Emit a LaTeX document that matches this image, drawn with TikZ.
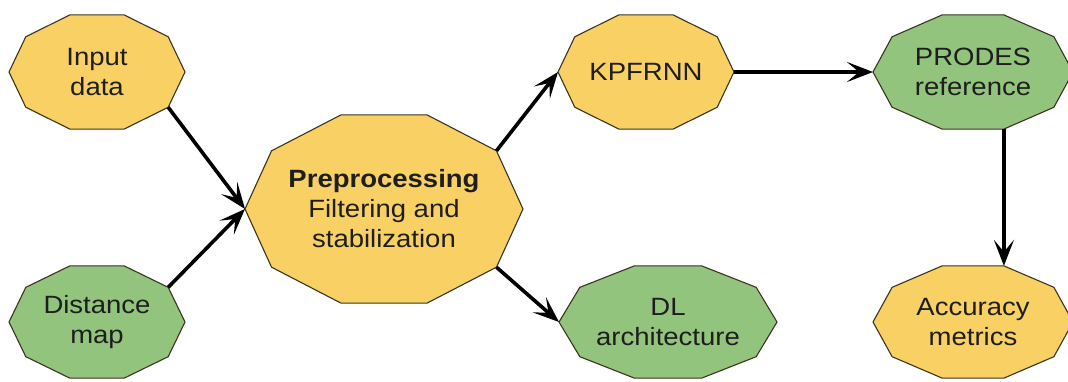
\documentclass[tikz,border=0pt]{standalone}
\usepackage{fontspec}
\setmainfont{Liberation Sans}[FakeStretch=1.1]
\usetikzlibrary{arrows.meta,calc}
\definecolor{yel}{HTML}{F8D064}
\definecolor{grn}{HTML}{93C47D}
\definecolor{edgec}{HTML}{3A3520}
\definecolor{txt}{HTML}{1E1E1E}
\tikzset{
  lbl/.style={text=txt, align=center, inner sep=0pt, font=\fontsize{25}{30}\selectfont},
  arr/.style={line width=3.6pt, draw=black, -{Stealth[length=26pt,width=20pt,inset=12pt]}},
  decaline/.style={draw=edgec, line width=1.1pt, line join=miter}
}
\newcommand\mydeca[7]{%
  \path[decaline, fill=#6]
    plot[samples=11, domain=0:360, variable=\t] ({#2+#4*cos(\t)},{#3-#5*sin(\t)}) -- cycle;
  \foreach \k in {0,...,9}{\coordinate (#1-\k) at ({#2+#4*cos(36*\k)},{#3-#5*sin(36*\k)});}
  \node[lbl] (#1) at (#2,#3) {#7};
}
\begin{document}
\begin{tikzpicture}[x=1pt,y=-1pt]
\useasboundingbox (0,0) rectangle (1068,381);
\clip (0,0) rectangle (1068,381);
\fill[white] (0,0) rectangle (1068,381);
\mydeca{in}{97}{72}{88}{60}{yel}{Input\\data}
\mydeca{dist}{97}{322}{88}{59}{grn}{Distance\\map}
\mydeca{pre}{384}{209}{139}{99}{yel}{\textbf{Preprocessing}\\Filtering and\\stabilization}
\mydeca{kp}{646}{72}{88}{60}{yel}{KPFRNN}
\mydeca{dl}{668}{322}{109}{59}{grn}{DL\\architecture}
\mydeca{pr}{973}{72}{100}{60}{grn}{PRODES\\reference}
\mydeca{acc}{973}{322}{100}{59}{yel}{Accuracy\\metrics}
\draw[arr] (in-9) -- (pre-5);
\draw[arr] (dist-1) -- (pre-5);
\draw[arr] (pre-1) -- (kp-5);
\draw[arr] (pre-9) -- (dl-5);
\draw[arr] (kp-0) -- (pr-5);
\draw[arr] (pr-8) -- (acc-2);
\end{tikzpicture}
\end{document}
